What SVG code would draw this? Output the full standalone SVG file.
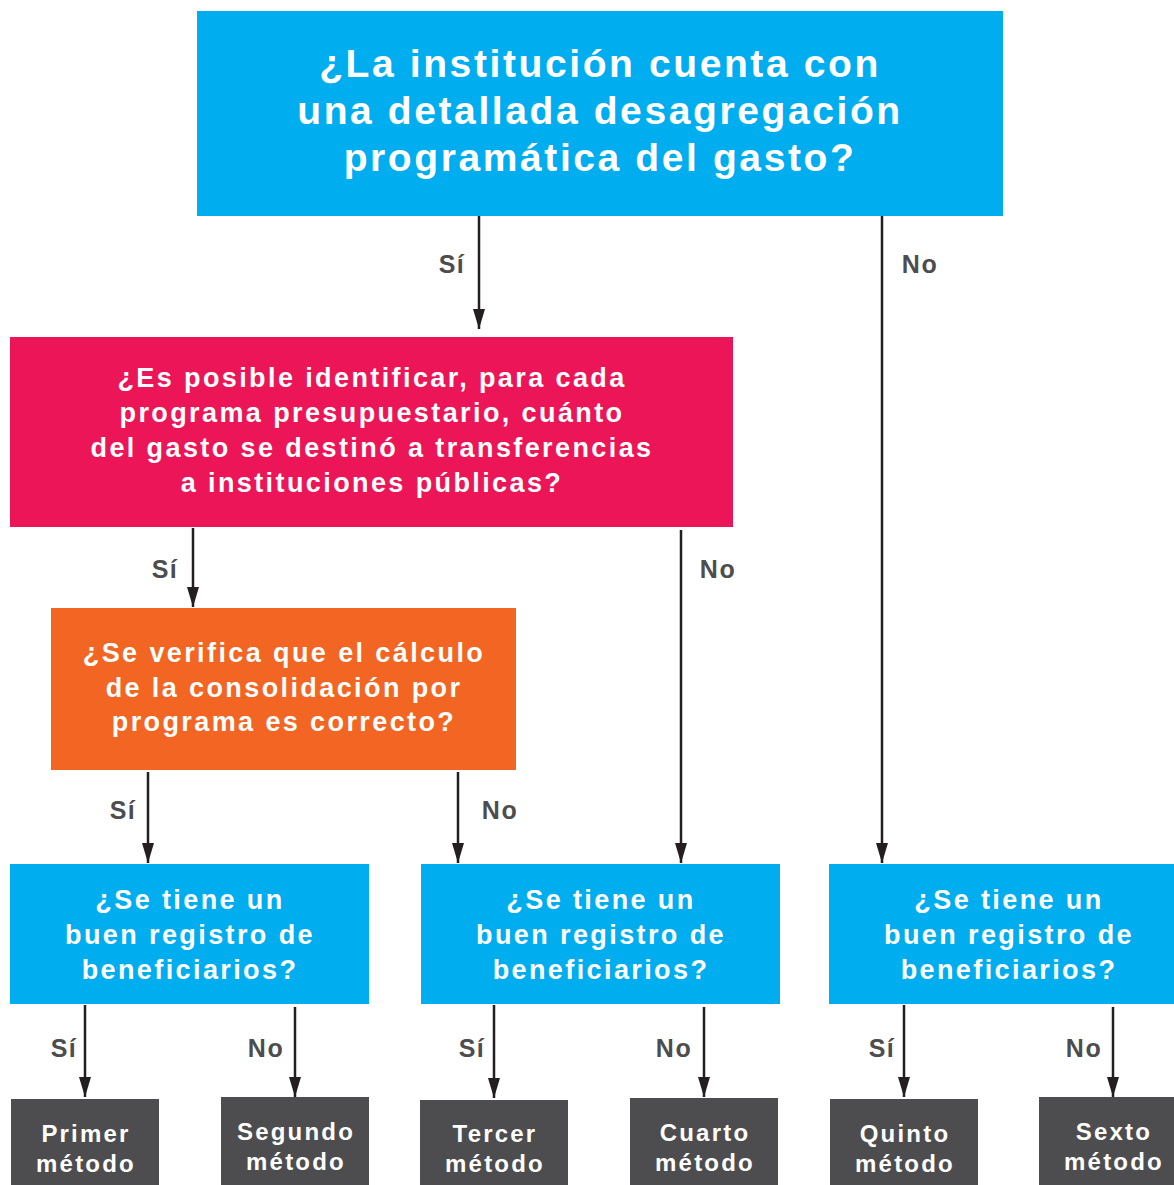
<svg xmlns="http://www.w3.org/2000/svg" width="1174" height="1185" viewBox="0 0 1174 1185">
<defs>
<style>
.t{font-family:"Liberation Sans",Arial,sans-serif;font-weight:bold;fill:#fff;text-anchor:middle}
.big{font-size:39px;letter-spacing:2.6px}
.mid{font-size:27px;letter-spacing:2.4px}
.sm{font-size:24px;letter-spacing:2.2px}
.lbl{font-family:"Liberation Sans",Arial,sans-serif;font-weight:bold;fill:#4d4d4f;font-size:25px;letter-spacing:1.5px;text-anchor:middle}
.c{stroke:#231f20;stroke-width:2.5;fill:none;marker-end:url(#ah)}
.blue{fill:#00aeef}
.dark{fill:#4d4d4f}
</style>
<marker id="ah" viewBox="0 0 20 12" refX="20" refY="6" markerWidth="8" markerHeight="4.8" orient="auto" markerUnits="strokeWidth">
<path d="M0,0 L20,6 L0,12 z" fill="#231f20"/>
</marker>
</defs>
<rect width="1174" height="1185" fill="#fff"/>

<g id="q1">
<rect class="blue" x="197" y="11" width="806" height="205"/>
<text class="t big" x="600" y="77">¿La institución cuenta con</text>
<text class="t big" x="600" y="124">una detallada desagregación</text>
<text class="t big" x="600" y="171">programática del gasto?</text>
</g>

<g id="q2">
<rect fill="#ec1558" x="10" y="337" width="723" height="190"/>
<text class="t mid" x="372" y="387">¿Es posible identificar, para cada</text>
<text class="t mid" x="372" y="422">programa presupuestario, cuánto</text>
<text class="t mid" x="372" y="457">del gasto se destinó a transferencias</text>
<text class="t mid" x="372" y="492">a instituciones públicas?</text>
</g>

<g id="q3">
<rect fill="#f26522" x="51" y="608" width="465" height="162"/>
<text class="t mid" x="284" y="662">¿Se verifica que el cálculo</text>
<text class="t mid" x="284" y="697">de la consolidación por</text>
<text class="t mid" x="284" y="731">programa es correcto?</text>
</g>

<g id="q4a">
<rect class="blue" x="10" y="864" width="359" height="140"/>
<text class="t mid" x="190" y="909">¿Se tiene un</text>
<text class="t mid" x="190" y="944">buen registro de</text>
<text class="t mid" x="190" y="979">beneficiarios?</text>
</g>
<g id="q4b">
<rect class="blue" x="421" y="864" width="359" height="140"/>
<text class="t mid" x="601" y="909">¿Se tiene un</text>
<text class="t mid" x="601" y="944">buen registro de</text>
<text class="t mid" x="601" y="979">beneficiarios?</text>
</g>
<g id="q4c">
<rect class="blue" x="829" y="864" width="345" height="140"/>
<text class="t mid" x="1009" y="909">¿Se tiene un</text>
<text class="t mid" x="1009" y="944">buen registro de</text>
<text class="t mid" x="1009" y="979">beneficiarios?</text>
</g>

<g id="m1">
<rect class="dark" x="11" y="1099" width="148" height="86"/>
<text class="t sm" x="86" y="1142">Primer</text>
<text class="t sm" x="86" y="1172">método</text>
</g>
<g id="m2">
<rect class="dark" x="221" y="1097" width="148" height="88"/>
<text class="t sm" x="296" y="1140">Segundo</text>
<text class="t sm" x="296" y="1170">método</text>
</g>
<g id="m3">
<rect class="dark" x="420" y="1100" width="148" height="85"/>
<text class="t sm" x="495" y="1142">Tercer</text>
<text class="t sm" x="495" y="1172">método</text>
</g>
<g id="m4">
<rect class="dark" x="630" y="1098" width="148" height="87"/>
<text class="t sm" x="705" y="1141">Cuarto</text>
<text class="t sm" x="705" y="1171">método</text>
</g>
<g id="m5">
<rect class="dark" x="830" y="1099" width="148" height="86"/>
<text class="t sm" x="905" y="1142">Quinto</text>
<text class="t sm" x="905" y="1172">método</text>
</g>
<g id="m6">
<rect class="dark" x="1039" y="1097" width="135" height="88"/>
<text class="t sm" x="1114" y="1140">Sexto</text>
<text class="t sm" x="1114" y="1170">método</text>
</g>

<g id="connectors">
<line class="c" x1="479" y1="216" x2="479" y2="329"/>
<line class="c" x1="882" y1="216" x2="882" y2="863"/>
<line class="c" x1="193" y1="528" x2="193" y2="607"/>
<line class="c" x1="681" y1="530" x2="681" y2="863"/>
<line class="c" x1="148" y1="772" x2="148" y2="863"/>
<line class="c" x1="458" y1="772" x2="458" y2="863"/>
<line class="c" x1="85" y1="1005" x2="85" y2="1097"/>
<line class="c" x1="295" y1="1007" x2="295" y2="1097"/>
<line class="c" x1="494" y1="1005" x2="494" y2="1098"/>
<line class="c" x1="704" y1="1007" x2="704" y2="1097"/>
<line class="c" x1="904" y1="1005" x2="904" y2="1097"/>
<line class="c" x1="1113" y1="1007" x2="1113" y2="1097"/>
<text class="lbl" x="452" y="273">Sí</text>
<text class="lbl" x="920" y="273">No</text>
<text class="lbl" x="165" y="578">Sí</text>
<text class="lbl" x="718" y="578">No</text>
<text class="lbl" x="123" y="819">Sí</text>
<text class="lbl" x="500" y="819">No</text>
<text class="lbl" x="64" y="1057">Sí</text>
<text class="lbl" x="266" y="1057">No</text>
<text class="lbl" x="472" y="1057">Sí</text>
<text class="lbl" x="674" y="1057">No</text>
<text class="lbl" x="882" y="1057">Sí</text>
<text class="lbl" x="1084" y="1057">No</text>
</g>
</svg>
